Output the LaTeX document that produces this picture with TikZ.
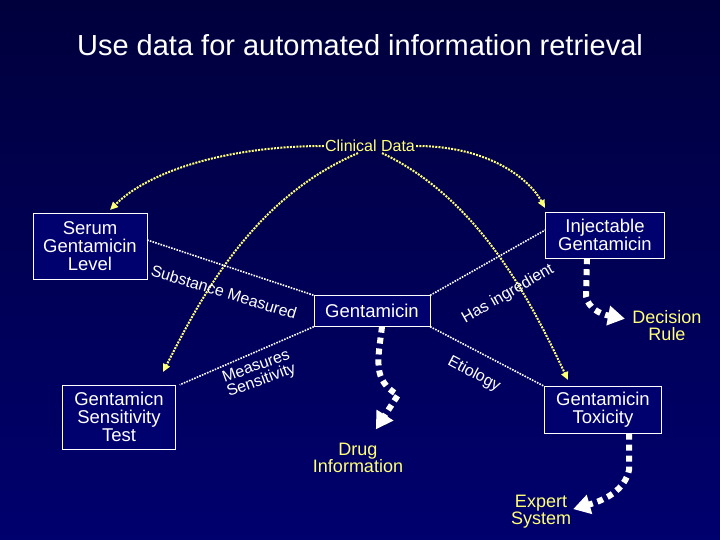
\documentclass[tikz,border=0pt]{standalone}
\usepackage{fontspec}
\setmainfont{Liberation Sans}
\usetikzlibrary{arrows.meta}
\definecolor{ylw}{RGB}{255,255,120}
\definecolor{navy}{RGB}{0,0,110}
\begin{document}
\begin{tikzpicture}[x=1pt,y=-1pt,
  box/.style={draw=white,fill=navy,text=white,align=center,font=\fontsize{18.5}{18}\selectfont,inner sep=1pt},
  ylab/.style={text=ylw,align=center,font=\fontsize{18}{17}\selectfont},
  yline/.style={draw=ylw,line width=2pt,dash pattern=on 2pt off 1.2pt,-{Triangle[length=8pt,width=7pt]}},
  wline/.style={draw=white,line width=1.6pt,dash pattern=on 1.6pt off 1.2pt},
  thick dot/.style={draw=white,line width=6pt,dash pattern=on 6pt off 5pt,-{Triangle[length=17pt,width=19pt,fill=white]},shorten >=-4pt},
  rel/.style={text=white,font=\fontsize{16}{15}\selectfont,inner sep=1pt}]
\shade[top color=navy!55!black,bottom color=navy] (0,0) rectangle (720,540);
\useasboundingbox (0,0) rectangle (720,540);
\node[text=white,font=\fontsize{29}{29}\selectfont] (title) at (360,45) {Use data for automated information retrieval};
\node[ylab,font=\fontsize{16}{16}\selectfont,inner sep=1pt] (cd) at (370,146) {Clinical Data};
\node[box,minimum width=114pt,minimum height=66pt] (serum) at (90,246) {Serum\\Gentamicin\\Level};
\node[box,minimum width=119pt,minimum height=46pt] (inj) at (605,235) {Injectable\\Gentamicin};
\node[box,minimum width=116pt,minimum height=31pt] (gen) at (372,311) {Gentamicin};
\node[box,minimum width=113pt,minimum height=64pt] (sens) at (119,417) {Gentamicn\\Sensitivity\\Test};
\node[box,minimum width=117pt,minimum height=47pt] (tox) at (603,410) {Gentamicin\\Toxicity};
\node[ylab] (drug) at (358,458) {Drug\\Information};
\node[ylab] (dec) at (667,326) {Decision\\Rule};
\node[ylab] (exp) at (541,512) {Expert\\System};
% yellow curves
\draw[yline] (cd.west) .. controls (230,146) and (150,170) .. (110,210);
\draw[yline] ([xshift=-12pt]cd.south) .. controls (250,200) and (200,300) .. (163,372);
\draw[yline] (cd.east) .. controls (490,146) and (530,180) .. (545,208);
\draw[yline] ([xshift=12pt]cd.south) .. controls (480,200) and (530,300) .. (568,380);
% white relations
\draw[wline] ([yshift=6pt]serum.east) -- (gen.north west);
\draw[wline] (gen.south west) -- ([xshift=4pt]sens.north east);
\draw[wline] (gen.north east) -- ([yshift=5pt]inj.west);
\draw[wline] (gen.south east) -- (tox.north west);
\node[rel,rotate=-17] (l1) at (224,292) {Substance Measured};
\node[rel,rotate=20,align=center] (l2) at (259,374) {Measures\\Sensitivity};
\node[rel,rotate=30] (l3) at (508,294) {Has ingredient};
\node[rel,rotate=-28] (l4) at (474,374) {Etiology};
% thick arrows
\draw[thick dot] ([xshift=10pt]gen.south) .. controls (378,360) and (372,380) .. (398,395) -- (378,426);
\draw[thick dot] ([xshift=-18pt]inj.south) -- (586,296) .. controls (588,308) and (600,314) .. (621,318);
\draw[thick dot] ([xshift=26pt]tox.south) -- (629,470) .. controls (625,490) and (605,500) .. (577,508);
\end{tikzpicture}
\end{document}
